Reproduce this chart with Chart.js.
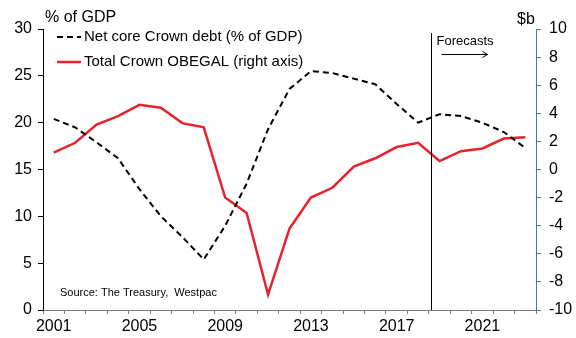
<!DOCTYPE html>
<html>
<head>
<meta charset="utf-8">
<script src="https://cdn.jsdelivr.net/npm/chart.js@4"></script>
<style>
  html, body { margin: 0; padding: 0; background: #fff; }
  canvas { display: block; }
</style>
</head>
<body>
<canvas id="c" width="576" height="338"></canvas>
<script>
// Fiscal years
const years = ['2001','2002','2003','2004','2005','2006','2007','2008','2009','2010','2011','2012',
               '2013','2014','2015','2016','2017','2018','2019','2020','2021','2022','2023'];

// Net core Crown debt, % of GDP (left axis)
const netDebtPct = [20.4, 19.5, 17.9, 16.2, 12.9, 10.0, 7.8, 5.4, 9.0, 13.5, 19.3, 23.6,
                    25.5, 25.3, 24.7, 24.1, 22.0, 20.0, 20.9, 20.7, 20.0, 19.0, 17.3];

// Total Crown OBEGAL, $b (right axis)
const obegal = [1.2, 1.9, 3.2, 3.8, 4.6, 4.4, 3.3, 3.0, -2.0, -3.1, -8.9, -4.2,
                -2.0, -1.3, 0.2, 0.8, 1.6, 1.9, 0.6, 1.3, 1.5, 2.2, 2.3];

// First forecast year
const forecastFrom = '2019';

const FONT = 'Liberation Sans, Arial, sans-serif';

const overlay = {
  id: 'overlay',
  afterDatasetsDraw(chart) {
    const ctx = chart.ctx;
    const x = chart.scales.x;
    const area = chart.chartArea;
    ctx.save();

    // Forecast divider
    const i = years.indexOf(forecastFrom);
    const step = x.getPixelForValue(i) - x.getPixelForValue(i - 1);
    const fx = Math.round(x.getPixelForValue(i) - step * 0.5 + 2) + 0.5;
    ctx.strokeStyle = '#000';
    ctx.lineWidth = 1;
    ctx.beginPath();
    ctx.moveTo(fx, 33);
    ctx.lineTo(fx, area.bottom);
    ctx.stroke();

    ctx.fillStyle = '#000';
    ctx.font = '13px ' + FONT;
    ctx.textBaseline = 'middle';
    ctx.textAlign = 'left';
    ctx.fillText('Forecasts', fx + 5, 41);

    // arrow
    ctx.beginPath();
    ctx.moveTo(fx + 10, 54.5);
    ctx.lineTo(fx + 56, 54.5);
    ctx.moveTo(fx + 51, 51.5);
    ctx.lineTo(fx + 56, 54.5);
    ctx.lineTo(fx + 51, 57.5);
    ctx.stroke();

    // Axis units
    ctx.font = '16px ' + FONT;
    ctx.fillText('% of GDP', 45, 18);
    ctx.fillText('$b', 517, 20);

    // Legend
    ctx.font = '15px ' + FONT;
    chart.data.datasets.forEach((ds, k) => {
      const y = 37 + k * 25;
      ctx.strokeStyle = ds.borderColor;
      ctx.lineWidth = ds.borderWidth;
      ctx.setLineDash(ds.borderDash || []);
      ctx.beginPath();
      ctx.moveTo(57, y);
      ctx.lineTo(81, y);
      ctx.stroke();
      ctx.setLineDash([]);
      ctx.fillStyle = '#000';
      ctx.fillText(ds.label, 84, y);
    });

    // Source note
    ctx.font = '11px ' + FONT;
    ctx.fillStyle = '#000';
    ctx.fillText('Source: The Treasury,  Westpac', 60, 293);

    ctx.restore();
  }
};

new Chart(document.getElementById('c'), {
  type: 'line',
  data: {
    labels: years,
    datasets: [
      {
        label: 'Net core Crown debt (% of GDP)',
        data: netDebtPct,
        yAxisID: 'y',
        borderColor: '#000000',
        borderWidth: 2,
        borderDash: [6, 4],
        pointRadius: 0,
        tension: 0,
        fill: false
      },
      {
        label: 'Total Crown OBEGAL (right axis)',
        data: obegal,
        yAxisID: 'y1',
        borderColor: '#e8222b',
        borderWidth: 2.5,
        pointRadius: 0,
        tension: 0,
        fill: false
      }
    ]
  },
  options: {
    responsive: false,
    animation: false,
    events: [],
    layout: { padding: { top: 29, left: 0, right: 0, bottom: 0 } },
    plugins: {
      legend: { display: false },
      tooltip: { enabled: false }
    },
    scales: {
      x: {
        type: 'category',
        offset: true,
        afterFit(s) { s.height = 28; },
        grid: { offset: true, drawOnChartArea: false, tickLength: 4, color: '#7f7f7f' },
        border: { color: '#7f7f7f', width: 1 },
        ticks: {
          autoSkip: false,
          maxRotation: 0,
          padding: 3,
          color: '#000',
          font: { family: FONT, size: 16 },
          callback(v, i) { return i % 4 === 0 ? years[i] : ''; }
        }
      },
      y: {
        position: 'left',
        min: 0, max: 30,
        afterFit(s) { s.width = 43; },
        grid: { drawOnChartArea: false, tickLength: 5, color: '#000' },
        border: { color: '#000', width: 1 },
        ticks: {
          stepSize: 5,
          padding: 6,
          color: '#000',
          font: { family: FONT, size: 16 }
        }
      },
      y1: {
        position: 'right',
        min: -10, max: 10,
        afterFit(s) { s.width = 40; },
        grid: { drawOnChartArea: false, tickLength: 5, color: '#3e7f8f' },
        border: { color: '#3e7f8f', width: 1 },
        ticks: {
          stepSize: 2,
          padding: 8,
          color: '#000',
          font: { family: FONT, size: 16 }
        }
      }
    }
  },
  plugins: [overlay]
});
</script>
</body>
</html>
